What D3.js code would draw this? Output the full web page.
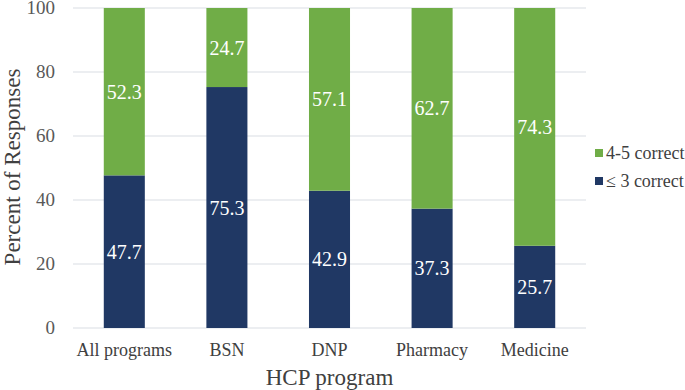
<!DOCTYPE html>
<html>
<head>
<meta charset="utf-8">
<script src="https://cdn.jsdelivr.net/npm/d3@7"></script>
<style>
  body { margin: 0; background: #fff; }
</style>
</head>
<body>
<svg id="chart" width="685" height="390" font-family="'Liberation Serif', 'DejaVu Serif', serif"></svg>
<script>
// data
const programs = ["All programs", "BSN", "DNP", "Pharmacy", "Medicine"];
const low = [47.7, 75.3, 42.9, 37.3, 25.7];     // <= 3 correct
const high = [52.3, 24.7, 57.1, 62.7, 74.3];    // 4-5 correct
const yTicks = [0, 20, 40, 60, 80, 100];
const seriesNames = ["4-5 correct", "\u2264 3 correct"];
const seriesColors = ["#70ad47", "#203864"];

const svg = d3.select("#chart");
const plotLeft = 73, plotRight = 586, plotTop = 8, plotBottom = 328;

const x = d3.scaleBand().domain(programs).range([plotLeft, plotRight]).paddingInner(0.6).paddingOuter(0.3);
const y = d3.scaleLinear().domain([0, 100]).range([plotBottom, plotTop]);

// gridlines
svg.append("g").selectAll("line").data(yTicks).enter().append("line")
  .attr("x1", plotLeft).attr("x2", plotRight)
  .attr("y1", d => y(d)).attr("y2", d => y(d))
  .attr("stroke", "#d9dde3").attr("stroke-width", 1);

// y tick labels
svg.append("g").selectAll("text").data(yTicks).enter().append("text")
  .attr("x", 55).attr("y", d => y(d)).attr("dy", "0.33em")
  .attr("text-anchor", "end").attr("font-size", 19).attr("fill", "#595959")
  .text(d => d);

// stacked bars
const rows = programs.map((p, i) => ({ p: p, low: low[i], high: high[i] }));
const stack = d3.stack().keys(["low", "high"])(rows);
const colorFor = { low: seriesColors[1], high: seriesColors[0] };

stack.forEach(layer => {
  const g = svg.append("g");
  g.selectAll("rect").data(layer).enter().append("rect")
    .attr("x", d => x(d.data.p))
    .attr("width", x.bandwidth())
    .attr("y", d => y(d[1]))
    .attr("height", d => y(d[0]) - y(d[1]))
    .attr("fill", colorFor[layer.key]);
  g.selectAll("text").data(layer).enter().append("text")
    .attr("x", d => x(d.data.p) + x.bandwidth() / 2)
    .attr("y", d => y((d[0] + d[1]) / 2)).attr("dy", "0.35em")
    .attr("text-anchor", "middle").attr("font-size", 20).attr("fill", "#fff")
    .text(d => d.data[layer.key].toFixed(1));
});

// x tick labels
svg.append("g").selectAll("text").data(programs).enter().append("text")
  .attr("x", d => x(d) + x.bandwidth() / 2).attr("y", 356)
  .attr("text-anchor", "middle").attr("font-size", 18).attr("fill", "#404040")
  .text(d => d);

// axis titles
svg.append("text").attr("x", (plotLeft + plotRight) / 2).attr("y", 385)
  .attr("text-anchor", "middle").attr("font-size", 23).attr("fill", "#404040")
  .text("HCP program");
svg.append("text").attr("transform", "translate(20,167) rotate(-90)")
  .attr("text-anchor", "middle").attr("font-size", 23).attr("fill", "#404040")
  .text("Percent of Responses");

// legend
const legend = svg.append("g").selectAll("g").data(seriesNames).enter().append("g")
  .attr("transform", (d, i) => "translate(595," + (153 + i * 28) + ")");
legend.append("rect").attr("x", 0).attr("y", -4).attr("width", 8).attr("height", 8)
  .attr("fill", (d, i) => seriesColors[i]);
legend.append("text").attr("x", 11).attr("y", 0).attr("dy", "0.35em")
  .attr("font-size", 18).attr("fill", "#404040").text(d => d);
</script>
</body>
</html>
